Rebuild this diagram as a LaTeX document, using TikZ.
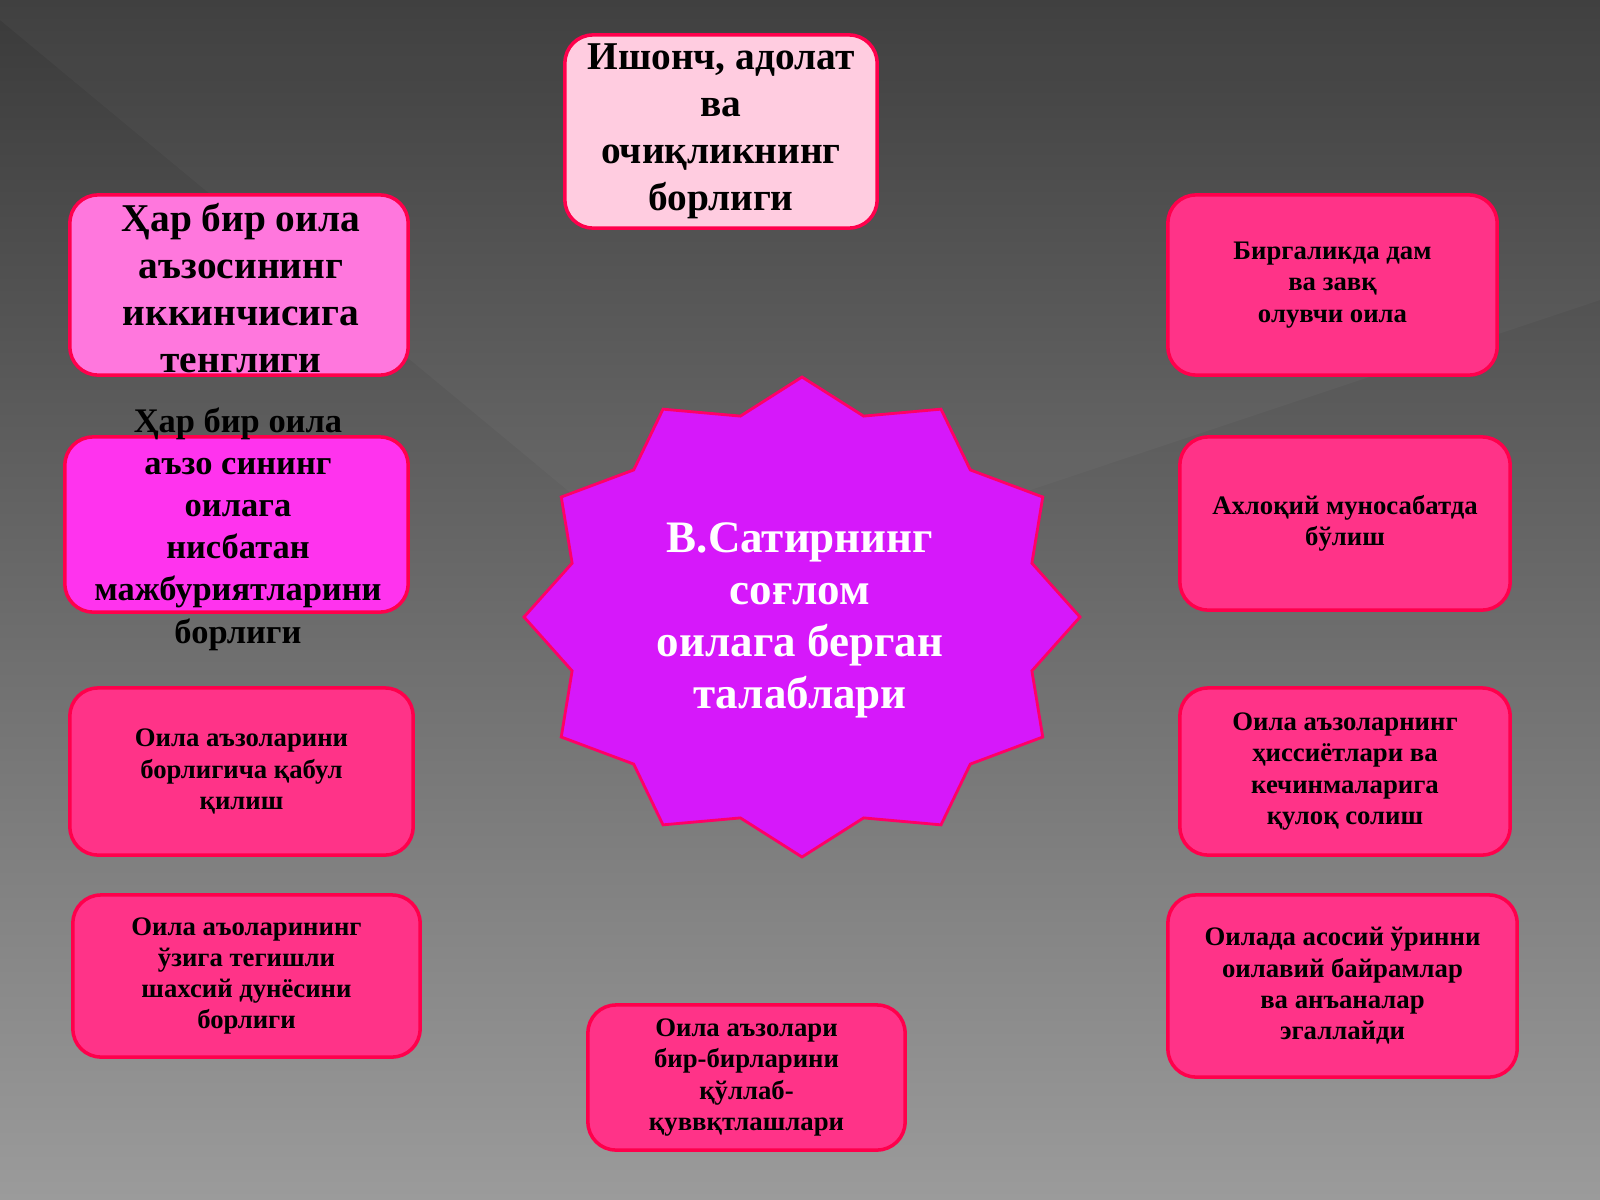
\documentclass[tikz,border=0pt]{standalone}
\usepackage{fontspec}
\setmainfont{Liberation Serif}
\begin{document}
\begin{tikzpicture}[x=0.01cm,y=-0.01cm,
  box/.style={draw=red!70!magenta,line width=1pt,rounded corners=0.28cm,inner sep=0pt},
  pinkbox/.style={box,fill={rgb,255:red,255;green,51;blue,136}},
  small/.style={font=\fontsize{7.6}{8.9}\selectfont\bfseries,align=center,text=black},
  big/.style={font=\fontsize{11.2}{13.4}\selectfont\bfseries,align=center,text=black}]
\useasboundingbox (0,0) rectangle (1600,1200);
\shade[top color={rgb,255:red,58;green,58;blue,58},bottom color={rgb,255:red,155;green,155;blue,155}] (0,0) rectangle (1600,1200);
\fill[white,opacity=0.03] (0,0) -- (0,20) -- (700,600) -- (1600,300) -- (1600,0) -- cycle;
% boxes
\node[box,fill={rgb,255:red,255;green,204;blue,224},minimum width=3.12cm,minimum height=1.93cm] (top) at (721,131.5) {};
\node[big] at (top) {Ишонч, адолат\\ва\\очиқликнинг\\борлиги};
\node[box,fill={rgb,255:red,255;green,119;blue,221},minimum width=3.38cm,minimum height=1.8cm] (l1) at (239,285) {};
\node[big] at (241,288) {Ҳар бир оила\\ аъзосининг\\иккинчисига\\ тенглиги};
\node[box,fill={rgb,255:red,255;green,51;blue,238},minimum width=3.43cm,minimum height=1.75cm] (l2) at (236.5,524.5) {};
\node[font=\fontsize{9.8}{12}\selectfont\bfseries,align=center,text=black] at (238,529) {Ҳар бир оила\\ аъзо сининг\\оилага\\нисбатан\\мажбуриятларини\\борлиги};
\node[pinkbox,minimum width=3.43cm,minimum height=1.67cm] (l3) at (241.5,771.5) {};
\node[small] at (l3) {Оила аъзоларини\\борлигича қабул\\қилиш};
\node[pinkbox,minimum width=3.47cm,minimum height=1.62cm] (l4) at (246.5,976) {};
\node[small] at (l4) {Оила аъоларининг\\ўзига тегишли\\шахсий дунёсини\\борлиги};
\node[pinkbox,minimum width=3.17cm,minimum height=1.45cm] (b) at (746.5,1077.5) {};
\node[small] at (b) {Оила аъзолари\\бир-бирларини\\қўллаб-\\қуввқтлашлари};
\node[pinkbox,minimum width=3.29cm,minimum height=1.8cm] (r1) at (1332.5,285) {};
\node[small] at (r1) {Биргаликда дам\\ва завқ\\олувчи оила};
\node[pinkbox,minimum width=3.3cm,minimum height=1.73cm] (r2) at (1345,523.5) {};
\node[small] at (r2) {Ахлоқий муносабатда\\бўлиш};
\node[pinkbox,minimum width=3.3cm,minimum height=1.67cm] (r3) at (1345,771.5) {};
\node[small] at (r3) {Оила аъзоларнинг\\ ҳиссиётлари ва\\кечинмаларига\\қулоқ солиш};
\node[pinkbox,minimum width=3.49cm,minimum height=1.82cm] (r4) at (1342.5,986) {};
\node[small] at (r4) {Оилада асосий ўринни\\оилавий байрамлар\\ва анъаналар\\эгаллайди};
% star
\filldraw[fill={rgb,255:red,214;green,24;blue,250},draw=red!60!magenta,line width=0.8pt]
  plot[samples=25,domain=0:24,variable=\k] ({802+ifthenelse(mod(\k,2)==0,278,238)*cos(90+15*\k)},{617-ifthenelse(mod(\k,2)==0,240,208)*sin(90+15*\k)}) -- cycle;
\node[font=\fontsize{12.8}{14.8}\selectfont\bfseries,align=center,text=white] (star) at (800,620) {В.Сатирнинг\\соғлом\\оилага берган\\ талаблари};
\end{tikzpicture}
\end{document}
